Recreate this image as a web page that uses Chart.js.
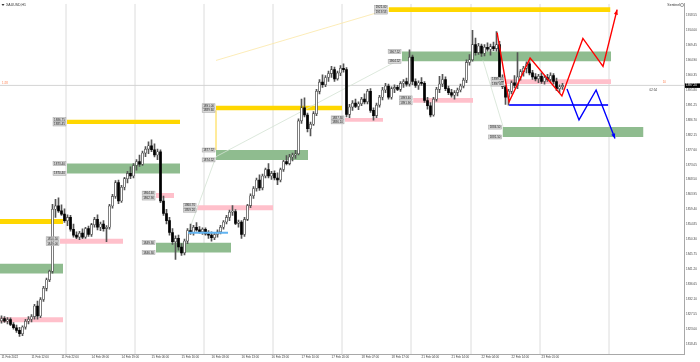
<!DOCTYPE html>
<html lang="en">
<head>
<meta charset="UTF-8">
<title>XAUUSD,H1</title>
<script src="https://cdn.jsdelivr.net/npm/chart.js"></script>
<style>
    html, body { margin: 0; padding: 0; background: #fff; }
    canvas { display: block; }
</style>
</head>
<body>
<canvas id="chart" width="700" height="362"></canvas>
<script>
// H1 candles [open, high, low, close], bar 0 = 11 Feb 2022 02:00
const ohlc = [
    [1825.5,1827.0,1824.8,1826.2],[1826.2,1826.8,1825.0,1825.4],[1825.4,1826.5,1824.6,1825.9],[1825.9,1826.4,1824.0,1824.4],
    [1824.4,1825.0,1823.0,1823.4],[1823.4,1824.2,1822.0,1822.6],[1822.6,1823.5,1820.8,1821.6],[1821.6,1824.0,1821.0,1823.6],
    [1823.6,1826.0,1823.0,1825.4],[1825.4,1826.8,1824.6,1826.0],[1826.0,1827.4,1825.2,1826.8],[1826.8,1830.5,1826.0,1830.0],
    [1830.0,1831.5,1826.0,1827.0],[1827.0,1832.6,1826.5,1832.0],[1832.0,1836.0,1831.4,1835.4],[1835.4,1838.5,1834.6,1838.0],
    [1838.0,1841.0,1837.4,1840.6],[1840.6,1861.0,1840.0,1859.5],[1859.5,1862.5,1857.0,1860.5],[1860.5,1863.0,1858.5,1859.0],
    [1859.0,1860.8,1857.6,1858.0],[1858.0,1859.6,1855.5,1856.0],[1856.0,1857.8,1854.5,1857.0],[1857.0,1857.6,1852.8,1853.4],
    [1853.4,1855.0,1851.0,1851.6],[1851.6,1852.6,1850.5,1851.0],[1851.0,1852.8,1850.2,1852.2],[1852.2,1853.5,1850.5,1851.0],
    [1851.0,1854.0,1850.6,1853.6],[1853.6,1854.4,1851.2,1851.8],[1851.8,1855.2,1851.2,1854.8],[1854.8,1857.0,1854.0,1856.4],
    [1856.4,1857.8,1853.2,1854.0],[1854.0,1855.6,1853.0,1855.0],[1855.0,1856.0,1852.8,1853.6],[1853.6,1854.5,1849.6,1854.0],
    [1854.0,1861.0,1853.4,1860.5],[1860.5,1864.0,1859.8,1863.4],[1863.4,1868.2,1862.8,1867.6],[1867.6,1868.4,1861.2,1862.0],
    [1862.0,1866.8,1861.6,1866.2],[1866.2,1869.2,1865.4,1868.8],[1868.8,1871.0,1867.5,1870.4],[1870.4,1872.4,1868.8,1869.6],
    [1869.6,1873.4,1869.0,1872.8],[1872.8,1874.6,1871.4,1874.0],[1874.0,1876.0,1872.5,1873.2],[1873.2,1877.2,1872.8,1876.6],
    [1876.6,1878.6,1875.5,1877.8],[1877.8,1880.0,1876.4,1878.8],[1878.8,1880.6,1877.0,1877.6],[1877.6,1879.4,1875.4,1876.0],
    [1876.0,1877.8,1874.6,1877.0],[1877.0,1877.6,1861.5,1862.0],[1862.0,1863.5,1857.6,1858.2],[1858.2,1859.5,1855.0,1856.0],
    [1856.0,1857.0,1851.6,1852.4],[1852.4,1853.6,1848.8,1849.6],[1849.6,1851.4,1844.2,1850.6],[1850.6,1851.6,1847.0,1848.0],
    [1848.0,1849.0,1845.4,1846.2],[1846.2,1850.4,1845.6,1849.8],[1849.8,1853.6,1849.0,1853.0],[1853.0,1855.0,1851.8,1852.4],
    [1852.4,1854.6,1851.6,1854.0],[1854.0,1855.4,1852.8,1853.2],[1853.2,1854.2,1852.2,1852.6],[1852.6,1853.8,1851.8,1853.4],
    [1853.4,1853.8,1851.6,1852.0],[1852.0,1853.0,1850.6,1851.6],[1851.6,1852.6,1849.8,1850.8],[1850.8,1852.4,1850.2,1851.8],
    [1851.8,1853.2,1851.0,1852.6],[1852.6,1854.6,1852.0,1854.0],[1854.0,1856.0,1853.4,1855.6],[1855.6,1857.6,1855.0,1857.0],
    [1857.0,1859.2,1856.0,1858.6],[1858.6,1860.6,1857.6,1858.8],[1858.8,1859.4,1854.8,1855.2],[1855.2,1856.2,1854.0,1855.6],
    [1855.6,1856.0,1850.6,1851.8],[1851.8,1857.0,1851.2,1856.4],[1856.4,1861.0,1856.0,1860.6],[1860.6,1864.2,1860.0,1863.6],
    [1863.6,1866.4,1862.8,1865.8],[1865.8,1869.0,1865.0,1868.4],[1868.4,1870.0,1865.2,1866.0],[1866.0,1870.2,1865.4,1869.6],
    [1869.6,1872.0,1869.0,1871.6],[1871.6,1873.4,1869.0,1869.6],[1869.6,1871.0,1868.6,1870.4],[1870.4,1871.2,1868.4,1869.0],
    [1869.0,1870.6,1867.0,1868.4],[1868.4,1872.0,1867.8,1871.6],[1871.6,1874.4,1871.0,1874.0],[1874.0,1875.8,1873.0,1873.4],
    [1873.4,1876.2,1873.0,1875.4],[1875.4,1876.6,1874.2,1876.0],[1876.0,1877.4,1875.0,1876.4],[1876.4,1887.0,1876.0,1886.4],
    [1886.4,1893.0,1885.6,1890.4],[1890.4,1893.4,1887.6,1888.2],[1888.2,1888.8,1883.0,1884.0],[1884.0,1886.0,1881.8,1885.4],
    [1885.4,1889.2,1885.0,1888.6],[1888.6,1896.0,1888.0,1895.4],[1895.4,1899.0,1894.6,1898.2],[1898.2,1900.4,1896.6,1897.4],
    [1897.4,1900.2,1896.8,1899.6],[1899.6,1901.6,1898.4,1900.8],[1900.8,1903.0,1899.6,1902.0],[1902.0,1902.8,1898.4,1899.2],
    [1899.2,1901.6,1898.8,1901.0],[1901.0,1903.2,1900.2,1902.4],[1902.4,1903.8,1901.2,1902.0],[1902.0,1902.6,1887.6,1888.4],
    [1888.4,1891.4,1887.4,1890.6],[1890.6,1892.6,1889.6,1891.8],[1891.8,1893.0,1890.4,1890.8],[1890.8,1892.2,1889.8,1891.6],
    [1891.6,1893.6,1891.0,1893.0],[1893.0,1894.6,1891.6,1892.2],[1892.2,1896.0,1891.6,1895.4],[1895.4,1896.2,1889.0,1889.6],
    [1889.6,1890.4,1886.6,1888.0],[1888.0,1891.8,1887.4,1891.2],[1891.2,1894.2,1890.6,1893.6],[1893.6,1896.6,1892.8,1895.8],
    [1895.8,1897.8,1895.0,1897.0],[1897.0,1897.6,1893.0,1893.6],[1893.6,1896.8,1893.0,1896.2],[1896.2,1897.4,1895.0,1896.6],
    [1896.6,1897.2,1895.6,1896.0],[1896.0,1898.4,1895.4,1897.8],[1897.8,1899.0,1896.6,1898.4],[1898.4,1899.4,1897.0,1897.6],
    [1897.6,1908.0,1897.0,1905.8],[1905.8,1906.4,1897.4,1898.4],[1898.4,1899.2,1896.6,1897.2],[1897.2,1898.6,1896.0,1898.0],
    [1898.0,1899.6,1897.2,1897.8],[1897.8,1898.4,1892.0,1892.6],[1892.6,1893.6,1890.0,1891.0],[1891.0,1892.0,1887.6,1888.2],
    [1888.2,1893.6,1887.8,1893.0],[1893.0,1896.6,1892.4,1896.0],[1896.0,1900.0,1895.0,1897.6],[1897.6,1900.6,1896.8,1899.0],
    [1899.0,1899.8,1895.6,1896.2],[1896.2,1897.0,1894.4,1895.0],[1895.0,1896.0,1893.6,1894.2],[1894.2,1895.6,1893.0,1895.0],
    [1895.0,1896.4,1894.0,1895.8],[1895.8,1897.6,1895.2,1897.0],[1897.0,1899.4,1896.4,1898.8],[1898.8,1905.0,1898.0,1904.2],
    [1904.2,1906.6,1903.4,1905.0],[1905.0,1914.0,1904.6,1909.6],[1909.6,1911.6,1906.4,1907.2],[1907.2,1910.0,1906.6,1909.2],
    [1909.2,1909.8,1906.0,1907.0],[1907.0,1909.6,1906.2,1908.8],[1908.8,1910.2,1907.6,1908.2],[1908.2,1909.8,1906.4,1909.0],
    [1909.0,1910.4,1907.8,1908.4],[1908.4,1913.6,1907.6,1909.6],[1909.6,1910.6,1898.4,1899.0],[1899.0,1900.4,1896.2,1896.8],
    [1896.8,1897.2,1891.4,1893.6],[1893.6,1896.0,1891.2,1895.4],[1895.4,1898.6,1894.6,1898.0],[1898.0,1900.2,1896.4,1897.2],
    [1897.2,1907.2,1896.2,1899.8],[1899.8,1902.0,1898.8,1901.4],[1901.4,1903.0,1900.0,1902.4],[1902.4,1904.4,1901.0,1903.8],
    [1903.8,1904.4,1900.4,1901.0],[1901.0,1901.8,1899.0,1899.8],[1899.8,1900.8,1898.6,1899.2],[1899.2,1900.6,1898.0,1900.0],
    [1900.0,1901.0,1897.8,1898.4],[1898.4,1900.2,1897.6,1899.6],[1899.6,1900.6,1898.4,1899.0],[1899.0,1901.0,1898.4,1900.2],
    [1900.2,1900.8,1897.6,1898.4],[1898.4,1899.4,1895.6,1896.2],[1896.2,1897.4,1895.0,1896.8],[1896.8,1897.8,1896.0,1897.2]
];

// time axis
const dateTicks = [0, 10, 20, 30, 40, 50, 60, 70, 80, 90, 100, 110, 120, 130, 140, 150, 160, 170, 180];
const dateLabels = ['11 Feb 2022', '11 Feb 12:00', '11 Feb 22:00', '14 Feb 09:00', '14 Feb 19:00', '15 Feb 06:00',
    '15 Feb 16:00', '16 Feb 03:00', '16 Feb 13:00', '16 Feb 23:00', '17 Feb 10:00', '17 Feb 20:00', '18 Feb 07:00',
    '18 Feb 17:00', '21 Feb 04:00', '21 Feb 14:00', '22 Feb 04:00', '22 Feb 14:00', '23 Feb 01:00'];
const daySeparators = [21.5, 44.5, 67.5, 90.5, 113.5, 136.5, 156.5, 179.5, 202.5];

// price axis
const priceTicks = [1918.55, 1914.00, 1909.45, 1904.90, 1900.35, 1895.80, 1891.25, 1886.70, 1882.15, 1877.60,
    1873.05, 1868.50, 1863.95, 1859.40, 1854.85, 1850.30, 1845.75, 1841.20, 1836.65, 1832.10, 1827.55, 1823.00, 1818.45];
const priceMin = 1815.41;
const priceMax = 1922.05;

// supply / demand zones (bar index range, price range)
const zoneStart  = [129, 133.5, 167.8, 167, 137.2, 114.5, 71.5, 71.5, 65.2, 51.5, 51.5, 21.8, 21.8, 19.5, -0.5, -0.5, -0.5];
const zoneEnd    = [203, 203.2, 203.2, 214, 157.2, 127.2, 113.5, 102.2, 90.5, 76.5, 57.5, 59.5, 59.5, 40.5, 20.5, 20.5, 20.5];
const zoneTop    = [1921.00, 1907.52, 1899.10, 1884.50, 1893.40, 1887.30, 1891.00, 1877.52, 1860.70, 1849.30, 1864.40,
    1886.75, 1873.40, 1850.50, 1856.50, 1842.90, 1826.60];
const zoneBottom = [1919.53, 1904.52, 1897.60, 1881.50, 1891.90, 1886.10, 1889.60, 1874.52, 1859.20, 1846.30, 1862.90,
    1885.45, 1870.40, 1849.00, 1855.00, 1839.90, 1825.10];
const zoneKind   = ['gold', 'green', 'pink', 'green', 'pink', 'pink', 'gold', 'green', 'pink', 'green', 'pink',
    'gold', 'green', 'pink', 'gold', 'green', 'pink'];

// projected paths
const redPathBars = [165.2, 169.2, 176.2, 186.8, 193.8, 200.5, 205.2];
const redPathPrices = [1913.3, 1892.2, 1905.5, 1894.0, 1911.5, 1903.0, 1920.3];
const bluePathBars = [188.5, 192.5, 198.2, 204.5];
const bluePathPrices = [1896.1, 1886.7, 1895.8, 1881.0];

// horizontal levels
const levelFrom = [169.2, 62.2];
const levelTo = [202.2, 75.5];
const levelPrice = [1891.2, 1852.3];

// thin swing lines
const swingBars = [[61.5, 71.5, 132.8], [160.5, 167.2]];
const swingPrices = [[1850.5, 1875.5, 1905.1], [1904.8, 1884.6]];
const fanBars = [71.5, 126.2];
const fanPrices = [1904.8, 1919.6];
const linkBars = [71.5, 71.5];
const linkPrices = [1889.6, 1877.52];

const bid = ohlc[ohlc.length - 1][3];

const zoneColors = { gold: '#ffd700', green: '#8fbc8f', pink: '#ffc0cb' };
const FONT = '"Liberation Sans", Arial, sans-serif';

const pts = (xs, ys) => xs.map((v, k) => ({ x: v, y: ys[k] }));
const plainLine = (data, color, width, order) => ({
    type: 'line', data, borderColor: color, borderWidth: width,
    pointRadius: 0, fill: false, tension: 0, order
});

const datasets = [];

daySeparators.forEach(s => datasets.push(plainLine(pts([s, s], [priceMin, priceMax]), '#dcdcdc', 1, 40)));
datasets.push(plainLine(pts([-0.5, 227.5], [bid, bid]), '#d4d4d4', 1, 35));

zoneStart.forEach((s, k) => datasets.push({
    type: 'line',
    data: pts([s, zoneEnd[k]], [zoneTop[k], zoneTop[k]]),
    fill: { value: zoneBottom[k] },
    backgroundColor: zoneColors[zoneKind[k]],
    borderColor: 'rgba(0,0,0,0)',
    borderWidth: 0,
    pointRadius: 0,
    order: 30
}));

swingBars.forEach((b, k) => datasets.push(plainLine(pts(b, swingPrices[k]), '#d3e2d3', 0.8, 20)));
datasets.push(plainLine(pts(fanBars, fanPrices), '#fbe7a6', 0.8, 20));
datasets.push(plainLine(pts(linkBars, linkPrices), '#ffe680', 0.8, 20));

// wicks
datasets.push({
    type: 'bar',
    data: ohlc.map((r, i) => ({ x: i, y: [r[2], r[1]] })),
    backgroundColor: '#555',
    barThickness: 1,
    grouped: false,
    order: 6
});
// bodies
datasets.push({
    type: 'bar',
    data: ohlc.map((r, i) => ({ x: i, y: [r[0], r[3]] })),
    backgroundColor: c => (c.raw && c.raw.y[1] >= c.raw.y[0]) ? '#fff' : '#000',
    borderColor: '#333',
    borderWidth: c => (c.raw && c.raw.y[1] >= c.raw.y[0]) ? 0.6 : 0,
    borderSkipped: false,
    barThickness: 2,
    minBarLength: 1,
    grouped: false,
    order: 5
});

levelFrom.forEach((f, k) => datasets.push(plainLine(pts([f, levelTo[k]], [levelPrice[k], levelPrice[k]]),
    k === 0 ? '#2f2fff' : '#62b4f2', 2, 3)));
datasets.push(plainLine(pts(redPathBars, redPathPrices), '#ff0000', 1.4, 1));
datasets.push(plainLine(pts(bluePathBars, bluePathPrices), '#0000ff', 1.4, 1));

const overlay = {
    id: 'overlay',
    afterDatasetsDraw(chart) {
        const { ctx, chartArea: area, scales: { x, y } } = chart;
        ctx.save();

        // zone price tags
        ctx.font = '3px ' + FONT;
        ctx.textBaseline = 'middle';
        ctx.textAlign = 'right';
        zoneStart.forEach((s, k) => {
            if (s < 0) return;
            const px = x.getPixelForValue(s) - 1;
            [zoneTop[k], zoneBottom[k]].forEach(p => {
                const py = y.getPixelForValue(p);
                const txt = p.toFixed(2);
                const w = ctx.measureText(txt).width + 2;
                ctx.fillStyle = '#d8d8d8';
                ctx.fillRect(px - w, py - 2, w, 4);
                ctx.strokeStyle = '#a0a0a0';
                ctx.lineWidth = 0.5;
                ctx.strokeRect(px - w, py - 2, w, 4);
                ctx.fillStyle = '#222';
                ctx.fillText(txt, px - 1, py + 0.2);
            });
        });

        // arrow heads
        const arrow = (bars, prices, color) => {
            const n = bars.length;
            const x1 = x.getPixelForValue(bars[n - 2]), y1 = y.getPixelForValue(prices[n - 2]);
            const x2 = x.getPixelForValue(bars[n - 1]), y2 = y.getPixelForValue(prices[n - 1]);
            const a = Math.atan2(y2 - y1, x2 - x1);
            ctx.fillStyle = color;
            ctx.beginPath();
            ctx.moveTo(x2, y2);
            ctx.lineTo(x2 - 5 * Math.cos(a) + 2 * Math.sin(a), y2 - 5 * Math.sin(a) - 2 * Math.cos(a));
            ctx.lineTo(x2 - 5 * Math.cos(a) - 2 * Math.sin(a), y2 - 5 * Math.sin(a) + 2 * Math.cos(a));
            ctx.closePath();
            ctx.fill();
        };
        arrow(redPathBars, redPathPrices, '#ff0000');
        arrow(bluePathBars, bluePathPrices, '#0000ff');

        // bid tag on the price axis
        const by = y.getPixelForValue(bid);
        ctx.fillStyle = '#000';
        ctx.fillRect(area.right + 1, by - 2, 15, 4.5);
        ctx.fillStyle = '#fff';
        ctx.textAlign = 'left';
        ctx.fillText(bid.toFixed(2), area.right + 2, by + 0.2);

        ctx.fillStyle = '#ff7f50';
        ctx.fillText('1:28', area.left + 2, by - 2);
        ctx.textAlign = 'right';
        ctx.fillText('10', area.right - 18, by - 3);
        ctx.fillStyle = '#333';
        ctx.fillText('02:54', area.right - 27, by + 5);

        // header texts
        ctx.font = '3.5px ' + FONT;
        ctx.textAlign = 'left';
        ctx.fillStyle = '#333';
        ctx.fillText('XAUUSD,H1', 6, 5);
        ctx.beginPath();
        ctx.moveTo(1.5, 4); ctx.lineTo(4.5, 4); ctx.lineTo(3, 6);
        ctx.closePath();
        ctx.fill();
        ctx.textAlign = 'right';
        ctx.fillText('Sentinel', area.right - 4, 5);
        ctx.strokeStyle = '#666';
        ctx.lineWidth = 0.6;
        ctx.beginPath();
        ctx.arc(area.right - 2, 5, 1.6, 0, Math.PI * 2);
        ctx.stroke();

        ctx.restore();
    }
};

new Chart(document.getElementById('chart'), {
    type: 'bar',
    data: { datasets },
    options: {
        responsive: false,
        animation: false,
        layout: { padding: { top: 1, left: 0, right: 0, bottom: 0 } },
        plugins: { legend: { display: false }, tooltip: { enabled: false } },
        scales: {
            x: {
                type: 'linear',
                min: -0.5,
                max: 227.5,
                offset: false,
                grid: { display: false, drawTicks: false },
                border: { display: true, color: '#a8a8a8' },
                afterBuildTicks: s => { s.ticks = dateTicks.map(v => ({ value: v })); },
                afterFit: s => { s.height = 8; },
                ticks: {
                    autoSkip: false,
                    maxRotation: 0,
                    minRotation: 0,
                    align: 'start',
                    padding: 1,
                    color: '#444',
                    font: { family: FONT, size: 3 },
                    callback: v => dateLabels[dateTicks.indexOf(v)]
                }
            },
            y: {
                type: 'linear',
                position: 'right',
                min: priceMin,
                max: priceMax,
                grid: { display: false, drawTicks: false },
                border: { display: true, color: '#a8a8a8' },
                afterBuildTicks: s => { s.ticks = priceTicks.map(v => ({ value: v })); },
                afterFit: s => { s.width = 16; },
                ticks: {
                    padding: 2,
                    color: '#444',
                    font: { family: FONT, size: 3 },
                    callback: v => v.toFixed(2)
                }
            }
        }
    },
    plugins: [overlay]
});
</script>
</body>
</html>
